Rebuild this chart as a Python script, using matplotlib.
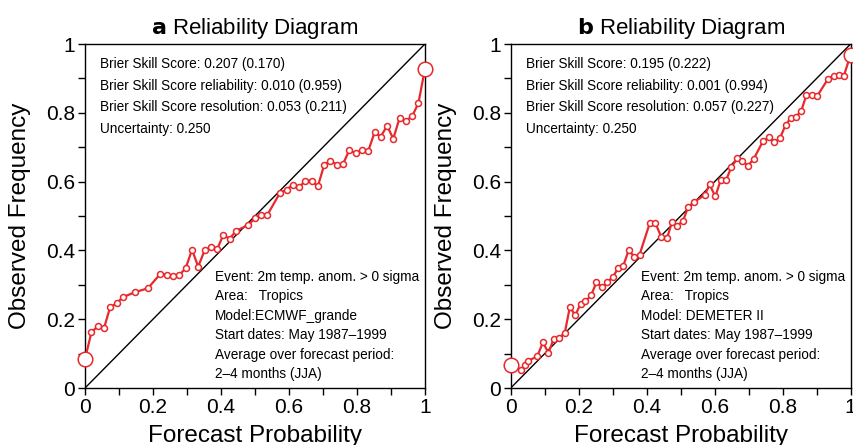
import numpy as np
import matplotlib
matplotlib.use("Agg")
import matplotlib.pyplot as plt
from matplotlib.ticker import MultipleLocator

plt.rcParams['font.family'] = ['Liberation Sans', 'DejaVu Sans']

# ECMWF_grande reliability curve
prob_a = [0.0, 0.019, 0.037, 0.056, 0.074, 0.093, 0.111, 0.148, 0.185, 0.222,
          0.241, 0.259, 0.278, 0.296, 0.315, 0.333, 0.352, 0.370, 0.389, 0.407,
          0.426, 0.444, 0.481, 0.500, 0.519, 0.537, 0.574, 0.593, 0.611, 0.630,
          0.648, 0.667, 0.685, 0.704, 0.722, 0.741, 0.759, 0.778, 0.796, 0.815,
          0.833, 0.852, 0.870, 0.889, 0.907, 0.926, 0.944, 0.963, 0.981, 1.0]
freq_a = [0.084, 0.162, 0.179, 0.174, 0.235, 0.246, 0.264, 0.279, 0.290, 0.332,
          0.329, 0.326, 0.329, 0.348, 0.402, 0.353, 0.400, 0.409, 0.404, 0.445,
          0.434, 0.457, 0.474, 0.494, 0.503, 0.504, 0.568, 0.576, 0.591, 0.583,
          0.603, 0.603, 0.586, 0.649, 0.661, 0.649, 0.651, 0.692, 0.682, 0.692,
          0.688, 0.743, 0.731, 0.762, 0.725, 0.786, 0.776, 0.791, 0.828, 0.927]

# DEMETER II reliability curve
prob_b = [0.0, 0.031, 0.041, 0.051, 0.078, 0.095, 0.111, 0.126, 0.142, 0.159,
          0.174, 0.190, 0.206, 0.220, 0.237, 0.252, 0.270, 0.283, 0.301, 0.316,
          0.331, 0.347, 0.364, 0.379, 0.409, 0.426, 0.443, 0.460, 0.475, 0.490,
          0.507, 0.522, 0.538, 0.571, 0.585, 0.602, 0.618, 0.634, 0.649, 0.667,
          0.681, 0.698, 0.715, 0.742, 0.760, 0.776, 0.792, 0.809, 0.824, 0.839,
          0.855, 0.870, 0.886, 0.902, 0.933, 0.950, 0.965, 0.980, 1.0]
freq_b = [0.068, 0.053, 0.067, 0.079, 0.092, 0.133, 0.102, 0.142, 0.146, 0.160,
          0.235, 0.212, 0.245, 0.252, 0.270, 0.307, 0.293, 0.307, 0.323, 0.349,
          0.355, 0.400, 0.382, 0.387, 0.479, 0.479, 0.439, 0.436, 0.484, 0.472,
          0.486, 0.526, 0.540, 0.561, 0.592, 0.557, 0.605, 0.605, 0.642, 0.668,
          0.660, 0.646, 0.666, 0.717, 0.729, 0.714, 0.726, 0.765, 0.785, 0.789,
          0.806, 0.852, 0.852, 0.849, 0.898, 0.908, 0.909, 0.907, 0.969]

scores_a = ["Brier Skill Score: 0.207 (0.170)",
            "Brier Skill Score reliability: 0.010 (0.959)",
            "Brier Skill Score resolution: 0.053 (0.211)",
            "Uncertainty: 0.250"]
scores_b = ["Brier Skill Score: 0.195 (0.222)",
            "Brier Skill Score reliability: 0.001 (0.994)",
            "Brier Skill Score resolution: 0.057 (0.227)",
            "Uncertainty: 0.250"]
info_a = ["Event: 2m temp. anom. > 0 sigma",
          "Area:   Tropics",
          "Model:ECMWF_grande",
          "Start dates: May 1987\u20131999",
          "Average over forecast period:",
          "2\u20134 months (JJA)"]
info_b = ["Event: 2m temp. anom. > 0 sigma",
          "Area:   Tropics",
          "Model: DEMETER II",
          "Start dates: May 1987\u20131999",
          "Average over forecast period:",
          "2\u20134 months (JJA)"]

red = '#e8282b'

fig = plt.figure(figsize=(8.54, 4.45), dpi=100)
ax_a = fig.add_axes([0.0995, 0.128, 0.398, 0.773])
ax_b = fig.add_axes([0.598, 0.128, 0.398, 0.773])

panels = [(ax_a, 'a', prob_a, freq_a, scores_a, info_a),
          (ax_b, 'b', prob_b, freq_b, scores_b, info_b)]

for ax, letter, p, f, scores, info in panels:
    ax.plot([0, 1], [0, 1], color='black', lw=1.0)
    ax.plot(p, f, color=red, lw=1.6, marker='o', ms=4.3, mfc='white',
            mec=red, mew=1.1, zorder=3)
    # end bins drawn with bigger open circles
    ax.plot([p[0], p[-1]], [f[0], f[-1]], ls='none', marker='o', ms=10.5,
            mfc='white', mec=red, mew=1.1, zorder=4, clip_on=False)

    ax.set_xlim(0, 1)
    ax.set_ylim(0, 1)
    ax.xaxis.set_major_locator(MultipleLocator(0.2))
    ax.yaxis.set_major_locator(MultipleLocator(0.2))
    ax.xaxis.set_minor_locator(MultipleLocator(0.1))
    ax.yaxis.set_minor_locator(MultipleLocator(0.1))
    ax.xaxis.set_major_formatter(lambda v, pos: '%g' % round(v, 1))
    ax.yaxis.set_major_formatter(lambda v, pos: '%g' % round(v, 1))
    ax.tick_params(which='both', direction='out', length=5, width=1.0)
    ax.tick_params(which='major', labelsize=15, pad=2)
    for s in ax.spines.values():
        s.set_linewidth(1.0)

    ax.set_xlabel('Forecast Probability', fontsize=17.5, labelpad=6)
    ax.set_ylabel('Observed Frequency', fontsize=17.5, labelpad=11)
    ax.set_title(r'$\bf{%s}$ Reliability Diagram' % letter, fontsize=16, pad=7)

    ax.text(0.044, 0.962, '\n'.join(scores), transform=ax.transAxes,
            fontsize=9.8, va='top', ha='left', linespacing=1.68)
    ax.text(0.382, 0.02, '\n'.join(info), transform=ax.transAxes,
            fontsize=9.8, va='bottom', ha='left', linespacing=1.5)

fig.savefig('out.png', dpi=100)
